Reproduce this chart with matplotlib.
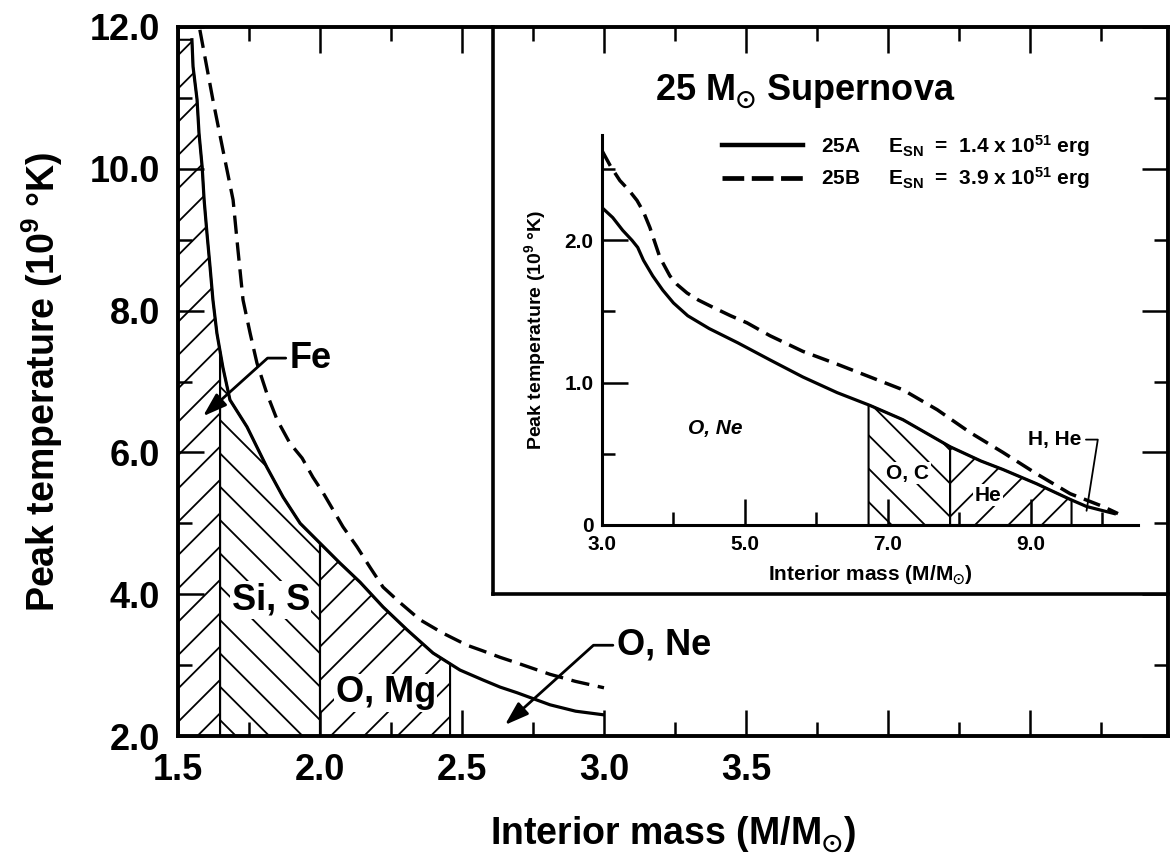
import numpy as np
import matplotlib
matplotlib.use("Agg")
import matplotlib.pyplot as plt
from matplotlib.lines import Line2D

plt.rcParams.update({
    "font.family": ["Liberation Sans", "DejaVu Sans"],
    "font.weight": "bold",
    "axes.labelweight": "bold",
    "mathtext.fontset": "custom",
    "mathtext.rm": "Liberation Sans:bold",
    "mathtext.bf": "Liberation Sans:bold",
    "mathtext.it": "Liberation Sans:italic:bold",
    "mathtext.default": "regular",
    "mathtext.fallback": "stixsans",
    "hatch.linewidth": 1.3,
    "hatch.color": "black",
})

# main panel: peak temperature (1e9 K) vs interior mass (M/Msun)
main_mass_a = [1.549, 1.553, 1.567, 1.574, 1.585, 1.592, 1.602, 1.613, 1.623, 1.637,
               1.658, 1.683, 1.743, 1.813, 1.870, 1.930, 2.0, 2.070, 2.141, 2.222,
               2.306, 2.398, 2.493, 2.574, 2.634, 2.694, 2.810, 2.90, 2.996]
main_temp_a = [11.82, 11.44, 10.98, 10.50, 10.03, 9.56, 9.09, 8.61, 8.15, 7.68,
               7.20, 6.74, 6.36, 5.79, 5.37, 5.00, 4.72, 4.44, 4.17, 3.82,
               3.50, 3.17, 2.93, 2.79, 2.69, 2.61, 2.44, 2.35, 2.30]
main_mass_b = [1.577, 1.623, 1.658, 1.694, 1.711, 1.729, 1.754, 1.778, 1.813, 1.849,
               1.894, 1.937, 1.975, 2.011, 2.046, 2.081, 2.130, 2.176, 2.222, 2.282,
               2.352, 2.433, 2.518, 2.574, 2.634, 2.694, 2.810, 2.90, 3.0]
main_temp_b = [11.96, 10.97, 10.27, 9.56, 8.86, 8.15, 7.68, 7.26, 6.83, 6.46,
               6.13, 5.92, 5.65, 5.43, 5.19, 4.95, 4.67, 4.38, 4.10, 3.88,
               3.64, 3.45, 3.28, 3.20, 3.11, 3.03, 2.87, 2.77, 2.68]

main_zone_names = ["Fe", "Si, S", "O, Mg"]
main_zone_edges = [1.5, 1.648, 2.0, 2.458]
main_zone_hatch = ["/", "\\", "/"]

# inset: 25 Msun supernova, models 25A / 25B
inset_mass_a = [3.0, 3.15, 3.29, 3.42, 3.50, 3.58, 3.71, 3.85, 4.0, 4.2, 4.5, 4.9,
                5.35, 5.81, 6.29, 6.75, 7.21, 7.87, 8.3, 8.61, 9.08, 9.55, 9.78, 10.17]
inset_temp_a = [2.23, 2.16, 2.07, 2.00, 1.95, 1.86, 1.75, 1.65, 1.56, 1.47, 1.38, 1.28,
                1.16, 1.04, 0.93, 0.84, 0.74, 0.55, 0.45, 0.39, 0.29, 0.18, 0.13, 0.08]
inset_mass_b = [3.0, 3.12, 3.25, 3.38, 3.49, 3.58, 3.67, 3.81, 3.95, 4.05, 4.19, 4.35,
                4.55, 4.8, 5.03, 5.35, 5.81, 6.29, 6.75, 7.21, 7.69, 8.15, 8.61, 9.08,
                9.55, 10.01, 10.22]
inset_temp_b = [2.63, 2.52, 2.42, 2.35, 2.28, 2.20, 2.09, 1.88, 1.75, 1.69, 1.63, 1.58,
                1.53, 1.47, 1.42, 1.33, 1.22, 1.13, 1.04, 0.95, 0.81, 0.65, 0.51, 0.36,
                0.22, 0.13, 0.08]

inset_zone_edges = [6.73, 7.87, 9.57]
inset_zone_hatch = ["\\", "/"]

legend_labels = [r"25A     E$_{SN}$  =  1.4 x 10$^{51}$ erg",
                 r"25B     E$_{SN}$  =  3.9 x 10$^{51}$ erg"]

W, H = 1170, 856
fig = plt.figure(figsize=(W / 100, H / 100), dpi=100, facecolor="white")


def px_box(x0, y0, x1, y1):
    # pixel box (top-left origin) -> figure fraction rect
    return [x0 / W, (H - y1) / H, (x1 - x0) / W, (y1 - y0) / H]


def hatch_zone(ax, xs, ys, lo, hi, hatch):
    xs = np.asarray(xs)
    inner = xs[(xs > lo) & (xs < hi)]
    xg = np.r_[lo, inner, hi]
    yg = np.interp(xg, xs, ys)
    ax.fill_between(xg, ax.get_ylim()[0], yg, facecolor="none", edgecolor="black",
                    hatch=hatch, linewidth=1.5, zorder=1)


# ---- main axes ----
ax = fig.add_axes(px_box(178, 27, 1168, 736))
ax.set_xlim(1.5, 4.986)
ax.set_ylim(2.0, 12.0)
for s in ax.spines.values():
    s.set_linewidth(2.8)

for i, name in enumerate(main_zone_names):
    hatch_zone(ax, main_mass_a, main_temp_a, main_zone_edges[i], main_zone_edges[i + 1],
               main_zone_hatch[i])

ax.plot(main_mass_a, main_temp_a, color="black", lw=2.3, zorder=3)
ax.plot(main_mass_b, main_temp_b, color="black", lw=2.4, linestyle=(0, (5.5, 2.6)), zorder=3)

ax.set_xticks(np.arange(1.5, 4.51, 0.5))
ax.set_xticklabels(["1.5", "2.0", "2.5", "3.0", "3.5", "", ""])
ax.set_xticks(np.arange(1.75, 4.9, 0.5), minor=True)
ax.set_yticks(np.arange(2, 12.1, 2))
ax.set_yticklabels(["2.0", "4.0", "6.0", "8.0", "10.0", "12.0"])
ax.set_yticks(np.arange(3, 12, 2), minor=True)
ax.tick_params(which="both", direction="in", top=True, right=True, width=1.8,
               labelsize=26)
ax.tick_params(which="major", length=19)
ax.tick_params(which="minor", length=10)
ax.tick_params(axis="x", pad=12)
ax.tick_params(axis="y", pad=13)

ax.set_xlabel(r"Interior mass (M/M$_{\odot}$)", fontsize=27)
ax.xaxis.set_label_coords(0.5, -0.11)
ax.set_ylabel(r"Peak temperature (10$^{9}$ °K)", fontsize=27)
ax.yaxis.set_label_coords(-0.114, 0.5)

box = dict(facecolor="white", edgecolor="none", pad=1.0)
ax.text(1.827, 3.92, "Si, S", fontsize=26, ha="center", va="center", bbox=box, zorder=4)
ax.text(2.232, 2.61, "O, Mg", fontsize=26, ha="center", va="center", bbox=box, zorder=4)

arrow = dict(arrowstyle="-|>,head_length=0.9,head_width=0.3", mutation_scale=16,
             lw=2.0, color="black", shrinkA=1, shrinkB=0, relpos=(0, 0.5),
             connectionstyle="angle,angleA=0,angleB=42,rad=0")
ax.annotate("Fe", xy=(1.588, 6.51), xytext=(1.894, 7.33), fontsize=26,
            ha="left", va="center", arrowprops=arrow, zorder=5)
ax.annotate("O, Ne", xy=(2.651, 2.155), xytext=(3.046, 3.28), fontsize=26,
            ha="left", va="center", arrowprops=arrow, zorder=5)

# ---- inset frame ----
frame = fig.add_axes(px_box(493, 27, 1168, 594))
frame.set_facecolor("none")
frame.set_xticks([])
frame.set_yticks([])
frame.spines["top"].set_visible(False)
frame.spines["right"].set_visible(False)
frame.spines["left"].set_linewidth(2.6)
frame.spines["bottom"].set_linewidth(2.6)

# ---- inset plot ----
ai = fig.add_axes(px_box(602, 135, 1138, 525))
ai.set_facecolor("none")
ai.set_xlim(3.0, 10.5)
ai.set_ylim(0.0, 2.74)
ai.spines["top"].set_visible(False)
ai.spines["right"].set_visible(False)
ai.spines["left"].set_linewidth(2.2)
ai.spines["bottom"].set_linewidth(2.2)

for i, h in enumerate(inset_zone_hatch):
    hatch_zone(ai, inset_mass_a, inset_temp_a, inset_zone_edges[i], inset_zone_edges[i + 1], h)

ai.plot(inset_mass_a, inset_temp_a, color="black", lw=2.3, zorder=3)
ai.plot(inset_mass_b, inset_temp_b, color="black", lw=2.5, linestyle=(0, (5.0, 2.4)), zorder=3)

ai.set_xticks([3, 5, 7, 9])
ai.set_xticklabels(["3.0", "5.0", "7.0", "9.0"])
ai.set_xticks([4, 6, 8, 10], minor=True)
ai.set_yticks([0, 1, 2])
ai.set_yticklabels(["0", "1.0", "2.0"])
ai.set_yticks([0.5, 1.5, 2.5], minor=True)
ai.tick_params(which="both", direction="in", width=1.8, labelsize=15)
ai.tick_params(which="major", length=19)
ai.tick_params(which="minor", length=9.5)
ai.tick_params(axis="x", pad=7)
ai.tick_params(axis="y", pad=6)

ai.set_xlabel(r"Interior mass (M/M$_{\odot}$)", fontsize=15)
ai.xaxis.set_label_coords(0.5, -0.1)
ai.set_ylabel(r"Peak temperature (10$^{9}$ °K)", fontsize=14)
ai.yaxis.set_label_coords(-0.1, 0.5)

ai.text(4.58, 0.68, "O, Ne", fontsize=15, style="italic", ha="center", va="center")
ai.text(7.28, 0.365, "O, C", fontsize=15, ha="center", va="center", bbox=box, zorder=4)
ai.text(8.40, 0.21, "He", fontsize=15, ha="center", va="center", bbox=box, zorder=4)
ai.annotate("H, He", xy=(9.78, 0.10), xytext=(9.34, 0.60), fontsize=15,
            ha="center", va="center",
            arrowprops=dict(arrowstyle="-", lw=1.3, color="black", shrinkA=1, shrinkB=0,
                            relpos=(1, 0.5),
                            connectionstyle="angle,angleA=0,angleB=81,rad=0"))

handles = [Line2D([], [], color="black", lw=3.2),
           Line2D([], [], color="black", lw=3.4, linestyle=(0, (4.6, 1.6)))]
fig.legend(handles, legend_labels, loc="upper left", bbox_to_anchor=(722 / W, (H - 133) / H),
           frameon=False, fontsize=15, handlelength=3.9, handletextpad=0.85,
           borderpad=0, borderaxespad=0, labelspacing=0.3)

fig.text(805 / W, (H - 100) / H, r"25 M$_{\odot}$ Supernova", fontsize=26,
         ha="center", va="baseline")

fig.savefig("out.png", dpi=100, facecolor="white")
